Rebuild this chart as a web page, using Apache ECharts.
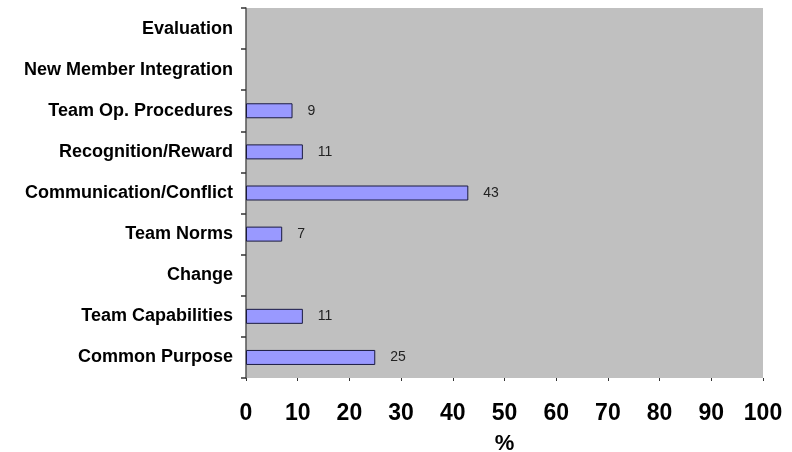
<!DOCTYPE html>
<html>
<head>
<meta charset="utf-8">
<script src="https://cdn.jsdelivr.net/npm/echarts@6/dist/echarts.min.js"></script>
<style>
  html, body { margin: 0; padding: 0; background: #fff; }
  #container { width: 792px; height: 452px; }
</style>
</head>
<body>
<div id="container"></div>
<script>
// categories listed bottom -> top (category y axis starts at the bottom)
const categories = [
    'Common Purpose',
    'Team Capabilities',
    'Change',
    'Team Norms',
    'Communication/Conflict',
    'Recognition/Reward',
    'Team Op. Procedures',
    'New Member Integration',
    'Evaluation'
];
const percents = [25, 11, null, 7, 43, 11, 9, null, null];
const xTicks = [0, 10, 20, 30, 40, 50, 60, 70, 80, 90, 100];

const font = '"Liberation Sans", Arial, Helvetica, sans-serif';

const chart = echarts.init(document.getElementById('container'), null, { renderer: 'canvas' });

chart.setOption({
    animation: false,
    backgroundColor: '#ffffff',
    grid: {
        left: 246,
        right: 29,
        top: 8,
        bottom: 74,
        outerBoundsMode: 'none',
        containLabel: false,
        show: true,
        backgroundColor: '#c0c0c0',
        borderWidth: 0
    },
    xAxis: {
        type: 'value',
        min: xTicks[0],
        max: xTicks[xTicks.length - 1],
        interval: 10,
        name: '%',
        nameLocation: 'middle',
        nameGap: 55,
        nameTextStyle: { fontFamily: font, fontSize: 22, fontWeight: 'bold', color: '#000' },
        axisLine: { show: false },
        axisTick: { show: true, length: 3, lineStyle: { color: '#333', width: 1 } },
        splitLine: { show: false },
        axisLabel: {
            margin: 24,
            fontFamily: font,
            fontSize: 23,
            fontWeight: 'bold',
            color: '#000'
        }
    },
    yAxis: {
        type: 'category',
        data: categories,
        axisLine: { show: true, lineStyle: { color: '#555', width: 1.5 } },
        axisTick: { show: true, length: 5, lineStyle: { color: '#333', width: 1.5 } },
        axisLabel: {
            margin: 13,
            padding: [9, 0, 0, 0],
            fontFamily: font,
            fontSize: 18,
            fontWeight: 'bold',
            color: '#000'
        }
    },
    series: [{
        type: 'bar',
        data: percents,
        barWidth: 15,
        itemStyle: {
            color: '#9999ff',
            borderColor: '#1a1a40',
            borderWidth: 1
        },
        label: {
            show: true,
            position: 'right',
            distance: 15,
            fontFamily: font,
            fontSize: 14,
            color: '#222'
        }
    }]
});
</script>
</body>
</html>
